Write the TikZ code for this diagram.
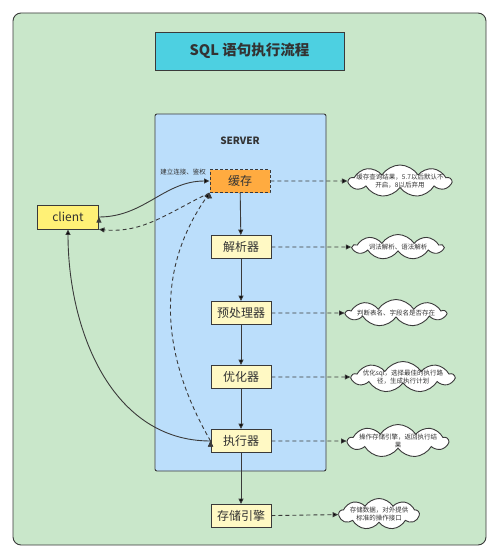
\documentclass[tikz,border=0pt]{standalone}
\usepackage{fontspec}
\newfontfamily\cjk{Noto Sans CJK SC}
\usepackage{tikz}
\usetikzlibrary{arrows.meta, shapes.symbols}
\definecolor{bggreen}{RGB}{201,231,202}
\definecolor{titlecyan}{RGB}{77,208,225}
\definecolor{serverblue}{RGB}{187,222,251}
\definecolor{cacheorange}{RGB}{255,171,64}
\definecolor{stepyellow}{RGB}{255,249,196}
\definecolor{clientyellow}{RGB}{255,241,118}
\definecolor{linegray}{RGB}{58,58,58}
\definecolor{textgray}{RGB}{51,51,51}

\begin{document}
\begin{tikzpicture}[x=1pt,y=1pt,font=\cjk,text=textgray,
    tip/.style={draw=linegray,line width=0.9pt,-{Triangle[length=5.5pt,width=5pt]}},
    dashline/.style={tip,dash pattern=on 4pt off 3pt},
    stepbox/.style={rectangle,draw=linegray,line width=0.9pt,fill=stepyellow,
        minimum width=60pt,minimum height=23pt,inner sep=0pt,font=\cjk\fontsize{12}{14}\selectfont},
    cloudbox/.style={cloud,cloud puffs=9,cloud puff arc=115,cloud ignores aspect,draw=linegray,line width=0.9pt,fill=white,inner sep=0pt},
    cloudtext/.style={align=center,inner sep=0pt,font=\cjk\fontsize{6.5}{8}\selectfont}]
\useasboundingbox (0,0) rectangle (500,-559);
\fill[white] (0,0) rectangle (500,-559);
%\draw[help lines] (0,0) grid[step=50] (500,-559);
\draw[draw=linegray,line width=0.9pt,fill=bggreen,rounded corners=8pt] (13,-13) rectangle (486,-545);
\draw[draw=linegray,line width=0.9pt,fill=serverblue,rounded corners=2pt] (155,-114) rectangle (326,-471);

\node[draw=linegray,line width=0.9pt,fill=titlecyan,minimum width=189pt,minimum height=38pt,
    font=\cjk\bfseries\fontsize{14.5}{17}\selectfont] (title) at (249.5,-51) {SQL 语句执行流程};
\node[font=\cjk\bfseries\fontsize{10}{12}\selectfont] (server) at (240,-141) {SERVER};
\node[font=\cjk\fontsize{6.5}{8}\selectfont] (auth) at (183,-172) {建立连接、鉴权};

\begin{scope}[every node/.style={stepbox}]
    \node[fill=clientyellow,minimum width=61pt,minimum height=24pt] (client) at (68,-217) {client};
    \node[fill=cacheorange,dash pattern=on 3pt off 2pt] (cache) at (240,-181) {缓存};
    \node (parser) at (241,-247) {解析器};
    \node (preproc) at (241,-313) {预处理器};
    \node (optimizer) at (241,-377) {优化器};
    \node (executor) at (241,-441) {执行器};
    \node (engine) at (241,-516) {存储引擎};
\end{scope}

\begin{scope}[every node/.style={cloudbox}]
    \node[minimum width=102pt,minimum height=32pt] (c1) at (400,-181) {};
    \node[minimum width=90pt,minimum height=25pt] (c2) at (398,-247) {};
    \node[minimum width=99pt,minimum height=27pt] (c3) at (396,-313) {};
    \node[minimum width=102pt,minimum height=31pt] (c4) at (403,-377) {};
    \node[minimum width=100pt,minimum height=33pt] (c5) at (398,-441) {};
    \node[minimum width=80pt,minimum height=31pt] (c6) at (379,-514) {};
\end{scope}
\begin{scope}[every node/.style={cloudtext}]
    \node (t1) at (c1) {缓存查询结果，5.7以后默认不\\开启，8以后弃用};
    \node (t2) at (c2) {词法解析、语法解析};
    \node (t3) at (c3) {判断表名、字段名是否存在};
    \node (t4) at (c4) {优化sql，选择最佳的执行路\\径，生成执行计划};
    \node (t5) at (c5) {操作存储引擎，返回执行结\\果};
    \node (t6) at (c6) {存储数据，对外提供\\标准的操作接口};
\end{scope}

\path [tip] (cache) edge (parser);
\path [tip] (parser) edge (preproc);
\path [tip] (preproc) edge (optimizer);
\path [tip] (optimizer) edge (executor);
\path [tip] (executor) edge (engine);

\path [dashline] (cache) edge (c1);
\path [dashline] (parser) edge (c2);
\path [dashline] (preproc) edge (c3);
\path [dashline] (optimizer) edge (c4);
\path [dashline] (executor) edge (c5);
\path [dashline] (engine) edge (c6);

\path [tip] (client.east) edge[out=0,in=180] (cache.west);
\path [dashline] (cache.south west) edge[out=205,in=-5] (client.south east);
\path [dashline] (executor.west) edge[out=120,in=235] (cache.south west);
\path [tip] (executor.west) edge[out=180,in=270] (client.south);
\end{tikzpicture}
\end{document}
